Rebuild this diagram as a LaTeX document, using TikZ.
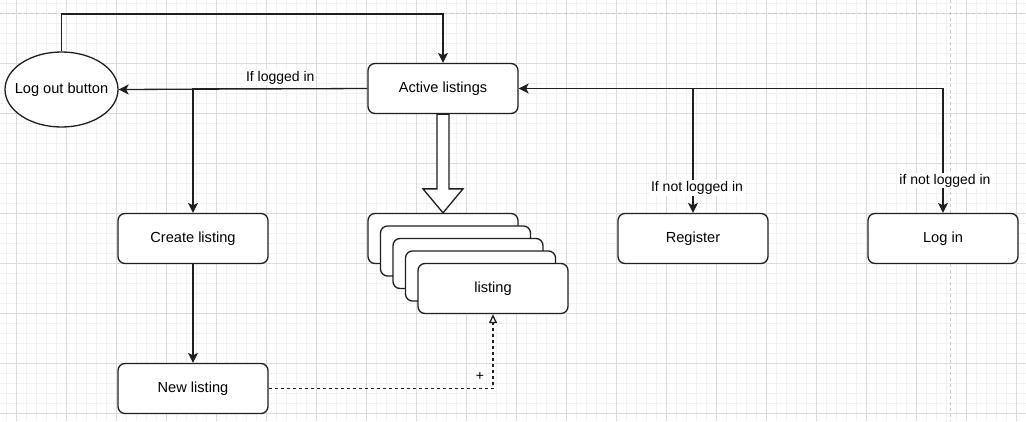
\documentclass[tikz,border=0pt]{standalone}
\usepackage{fontspec}
\setmainfont{Liberation Sans}
\usetikzlibrary{shapes.geometric, arrows.meta, calc, positioning}

\begin{document}
\begin{tikzpicture}[x=1pt, y=-1pt,
	box/.style={draw=black!88, line width=1.3pt, rounded corners=7pt, fill=white, minimum width=150pt, minimum height=50pt, inner sep=0pt, font=\fontsize{14.6}{16}\selectfont},
	oval/.style={ellipse, draw=black!88, line width=1.3pt, fill=white, minimum width=113pt, minimum height=75pt, inner xsep=-25pt, inner ysep=0pt, font=\fontsize{14.6}{16}\selectfont},
	conn/.style={draw=black!88, line width=1.3pt, -{Stealth[length=10pt, width=10pt, inset=2.5pt]}},
	lbl/.style={fill=white, inner sep=1pt, font=\fontsize{14}{16}\selectfont}]
			\useasboundingbox (0,0) rectangle (1026,421);
			
			% Background grid (minor and major lines)
			\foreach \gx in {0,...,101} \draw[black!5, line width=1pt] (6.7+10*\gx,0) -- (6.7+10*\gx,421);
			\foreach \gy in {0,...,41} \draw[black!5, line width=1pt] (0,3.3+10*\gy) -- (1026,3.3+10*\gy);
			\foreach \gx in {0,...,20} \draw[black!14, line width=1pt] (16.7+50*\gx,0) -- (16.7+50*\gx,421);
			\foreach \gy in {0,...,8} \draw[black!14, line width=1pt] (0,13.3+50*\gy) -- (1026,13.3+50*\gy);
			
			% Page break lines
			\draw[black!22, line width=1pt, dash pattern=on 3pt off 3pt] (0,13.3) -- (1026,13.3);
			\draw[black!22, line width=1pt, dash pattern=on 3pt off 3pt] (950,0) -- (950,421);
			
			% Nodes
			\node[oval] (logout) at (61.5,89.5) {Log out button};
			\node[box] (active) at (443,88.5) {Active listings};
			\node[box] (create) at (193,238.5) {Create listing};
			\node[box] (newlisting) at (193,388.5) {New listing};
			\node[box] (register) at (693,238.5) {Register};
			\node[box] (login) at (943,238.5) {Log in};
			
			% Stack of listings
			\foreach \i in {0,...,3} \node[box] (item\i) at (443+12.5*\i,238.5+12.5*\i) {};
			\node[box] (item4) at (493,288.5) {listing};
			
			% Connectors
			\coordinate (top) at (443,14);
			\draw[conn] (logout.north) |- (top) -- (active.north);
			\draw[conn] (active.west) -- node[lbl, pos=0.35, above=3pt] {If logged in} (logout.east);
			\draw[conn] (active.west) -| (create.north);
			\draw[conn] (create.south) -- (newlisting.north);
			\draw[conn] (active.east) -| node[lbl, pos=0.9, xshift=4pt] {If not logged in} (register.north);
			\draw[conn, {Stealth[length=10pt, width=10pt, inset=2.5pt]}-{Stealth[length=10pt, width=10pt, inset=2.5pt]}] (active.east) -| node[lbl, pos=0.87, xshift=2pt] {if not logged in} (login.north);
			\draw[draw=black!88, line width=1.3pt, dash pattern=on 3pt off 3pt, -{Triangle[open, length=9pt, width=8pt]}] (newlisting.east) -| node[pos=0.5, xshift=-13pt, yshift=12.5pt, font=\fontsize{14}{16}\selectfont] {+} (item4.south);
			
			% Block arrow
			\draw[draw=black!88, line width=1.3pt, fill=white] ($(active.south)+(-6,0)$) -- ($(item0.north)+(-6,-24)$) -- ($(item0.north)+(-20,-24)$) -- (item0.north) -- ($(item0.north)+(20,-24)$) -- ($(item0.north)+(6,-24)$) -- ($(active.south)+(6,0)$) -- cycle;
			
		\end{tikzpicture}
\end{document}
